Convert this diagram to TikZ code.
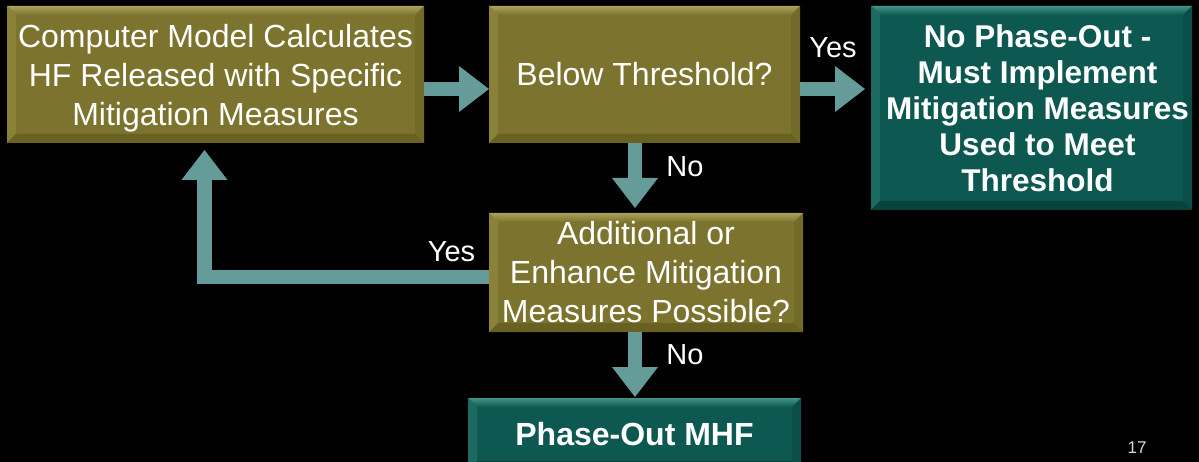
\documentclass[tikz,border=0pt]{standalone}
\usepackage{fontspec}
\setmainfont{Liberation Sans}
\usetikzlibrary{arrows.meta,calc}
\definecolor{boxolive}{RGB}{124,116,46}
\definecolor{olivetop}{RGB}{170,162,90}
\definecolor{oliveleft}{RGB}{138,130,56}
\definecolor{oliveright}{RGB}{114,106,40}
\definecolor{olivebot}{RGB}{104,97,34}
\definecolor{boxteal}{RGB}{13,89,81}
\definecolor{tealtop}{RGB}{66,146,136}
\definecolor{tealleft}{RGB}{28,106,97}
\definecolor{tealright}{RGB}{10,78,71}
\definecolor{tealbot}{RGB}{7,68,62}
\definecolor{arrowteal}{RGB}{101,155,153}
\newcommand{\rsh}{\hspace*{12pt}}
\tikzset{
  bevelbox/.style n args={5}{fill=#1, draw=none, inner sep=0pt, outer sep=0pt,
    text=white, align=center,
    path picture={
      \path (path picture bounding box.north west) coordinate (pnw)
            (path picture bounding box.north east) coordinate (pne)
            (path picture bounding box.south west) coordinate (psw)
            (path picture bounding box.south east) coordinate (pse);
      \shade[top color=#2, bottom color=#1] (pnw) -- (pne) -- ([shift={(-9pt,-9pt)}]pne) -- ([shift={(9pt,-9pt)}]pnw) -- cycle;
      \fill[#3] (pnw) -- ([shift={(9pt,-9pt)}]pnw) -- ([shift={(9pt,9pt)}]psw) -- (psw) -- cycle;
      \fill[#4] (pne) -- ([shift={(-9pt,-9pt)}]pne) -- ([shift={(-9pt,9pt)}]pse) -- (pse) -- cycle;
      \fill[#5] (psw) -- ([shift={(9pt,9pt)}]psw) -- ([shift={(-9pt,9pt)}]pse) -- (pse) -- cycle;
    }},
  obox/.style={bevelbox={boxolive}{olivetop}{oliveleft}{oliveright}{olivebot},
    font=\fontsize{32}{39}\selectfont},
  tbox/.style={bevelbox={boxteal}{tealtop}{tealleft}{tealright}{tealbot},
    font=\bfseries\fontsize{31.5}{36}\selectfont},
  flow/.style={draw=arrowteal, line width=14.5pt, line join=miter,
    -{Triangle[width=46pt,length=30pt,line width=0pt]}},
  lbl/.style={text=white, inner sep=0pt, font=\fontsize{29}{34}\selectfont}
}
\begin{document}
\begin{tikzpicture}[x=1pt,y=-1pt]
\useasboundingbox (0,0) rectangle (1199,462);
\fill[black] (0,0) rectangle (1199,462);
\clip (0,0) rectangle (1199,462);

\node[obox, minimum width=417pt, minimum height=137pt] (calc) at (215.5,74.5)
  {\rule{0pt}{30pt}Computer Model Calculates\\HF Released with Specific\\Mitigation Measures};
\node[obox, minimum width=311pt, minimum height=137pt] (below) at (644.5,74.5)
  {Below Threshold?};
\node[tbox, minimum width=321pt, minimum height=204pt] (nophase) at (1031.5,108)
  {\rsh No Phase-Out -\\\rsh Must Implement\\\rsh Mitigation Measures\\\rsh Used to Meet\\\rsh Threshold};
\node[obox, minimum width=314pt, minimum height=119pt] (more) at (646,272.5)
  {Additional or\\Enhance Mitigation\\Measures Possible?};
\node[tbox, minimum width=333pt, minimum height=72pt, font=\bfseries\fontsize{32}{38}\selectfont] (mhf) at (634.5,434)
  {Phase-Out MHF};

\coordinate (yestip) at (865,89);
\draw[flow] ($(calc.east)+(0,14.5)$) -- ($(below.west)+(0,14.5)$);
\draw[flow] ($(below.east)+(0,14.5)$) -- (yestip);
\draw[flow] ([xshift=-9.5pt]below.south) -- ([xshift=-11pt,yshift=5pt]more.north);
\draw[flow] ([xshift=-11pt]more.south) -- ([xshift=0.5pt,yshift=1pt]mhf.north);
\draw[flow] ([yshift=-4.5pt]more.west) -| ([xshift=-11pt,yshift=-7pt]calc.south);

\node[lbl] (yes1) at (833,48) {Yes};
\node[lbl] (no1) at (685,167) {No};
\node[lbl] (yes2) at (451.5,252) {Yes};
\node[lbl] (no2) at (685,355) {No};
\node[text=white!85!black, inner sep=0pt, anchor=north, font=\fontsize{17}{20}\selectfont] (pg) at (1137,442) {17};
\end{tikzpicture}
\end{document}
